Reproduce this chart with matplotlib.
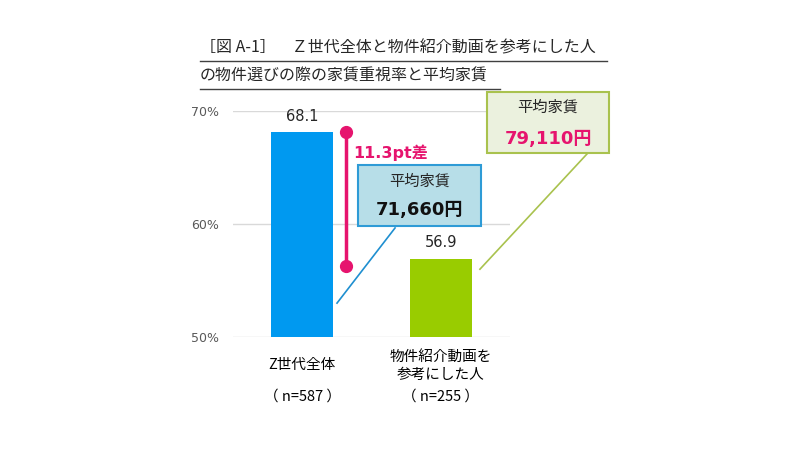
import matplotlib.pyplot as plt
from matplotlib.patches import Rectangle
from matplotlib.lines import Line2D

plt.rcParams['font.family'] = ['Noto Sans CJK JP', 'DejaVu Sans']
num_font = ['DejaVu Sans', 'Noto Sans CJK JP']

# data
categories = ['Z世代全体', '物件紹介動画を\n参考にした人']
sample_sizes = ['（ n=587 ）', '（ n=255 ）']
rates = [68.1, 56.9]
rents = ['71,660円', '79,110円']
gap_label = '11.3pt差'
yticks = [50, 60, 70]

blue = '#0099F0'
green = '#99CC00'
pink = '#E6146E'

fig = plt.figure(figsize=(8, 4.5), dpi=100)
ax = fig.add_axes([233 / 800, 1 - 337 / 450, 277 / 800, 226 / 450])

x = list(range(len(categories)))
ax.bar(x, [r - 50 for r in rates], bottom=50, width=0.45, color=[blue, green], zorder=3)
ax.set_xlim(-0.5, 1.5)
ax.set_ylim(50, 70)
ax.set_yticks(yticks)
ax.set_yticklabels([f'{t}%' for t in yticks], fontsize=9, color='#595959', family=num_font)
ax.tick_params(length=0, pad=10)
ax.set_xticks([])
ax.grid(axis='y', color='#d9d9d9', lw=1, zorder=0)
for s in ax.spines.values():
    s.set_visible(False)

# value labels
for xi, r in zip(x, rates):
    ax.text(xi, r + 1.45, f'{r}', ha='center', va='center', fontsize=10.5, color='#262626',
            family=num_font)

# category labels
tr = ax.get_xaxis_transform()
ax.text(0, -0.124, categories[0], transform=tr, ha='center', va='center', fontsize=10.5)
ax.text(1, -0.128, categories[1], transform=tr, ha='center', va='center', fontsize=10.5,
        linespacing=1.35)
for xi, n in zip(x, sample_sizes):
    ax.text(xi, -0.265, n, transform=tr, ha='center', va='center', fontsize=10.5)

# gap marker
gx = 0.316
ax.plot([gx, gx], [rates[0], rates[1] - 0.6], color=pink, lw=2.5, marker='o', ms=8.5,
        clip_on=False, zorder=4)
ax.text(gx + 0.05, 68.1 - 1.8, gap_label, ha='left', va='center', fontsize=11.5,
        fontweight='bold', color=pink, family=num_font)

# blue callout
ax.plot([0.251, 0.670], [53.0, 59.65], color='#1f8fd0', lw=1.2, clip_on=False, zorder=2)
ax.add_patch(Rectangle((0.403, 59.82), 1.291 - 0.403, 65.22 - 59.82, facecolor='#B7DEE8',
                       edgecolor='#2E9BD6', lw=1.5, clip_on=False, zorder=5))
ax.text(0.847, 63.8, '平均家賃', ha='center', va='center', fontsize=11, color='#262626', zorder=6)
ax.text(0.847, 61.2, rents[0], ha='center', va='center', fontsize=13, fontweight='bold',
        color='#111111', zorder=6, family=num_font)

# green callout
ax.plot([1.283, 2.056], [56.0, 66.2], color='#A9C24E', lw=1.2, clip_on=False, zorder=2)
ax.add_patch(Rectangle((1.334, 66.28), 2.215 - 1.334, 71.68 - 66.28, facecolor='#EBF1DE',
                       edgecolor='#A9C24E', lw=1.5, clip_on=False, zorder=5))
ax.text(1.775, 70.35, '平均家賃', ha='center', va='center', fontsize=11, color='#262626', zorder=6)
ax.text(1.775, 67.55, rents[1], ha='center', va='center', fontsize=13, fontweight='bold',
        color=pink, zorder=6, family=num_font)

# title
fig.text(0.25, 1 - 48 / 450, '［図 A-1］　Ｚ世代全体と物件紹介動画を参考にした人',
         ha='left', va='center', fontsize=11.5, color='#262626')
fig.text(0.25, 1 - 76 / 450, 'の物件選びの際の家賃重視率と平均家賃',
         ha='left', va='center', fontsize=11.5, color='#262626')
fig.add_artist(Line2D([0.25, 0.759], [1 - 61 / 450] * 2, color='#404040', lw=1))
fig.add_artist(Line2D([0.25, 0.625], [1 - 89 / 450] * 2, color='#404040', lw=1))

fig.savefig('out.png', dpi=100)
